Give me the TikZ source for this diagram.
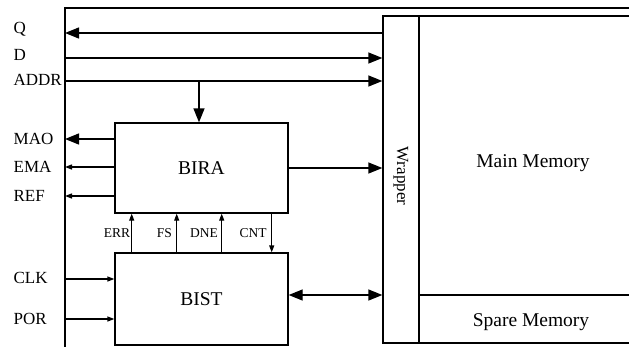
\documentclass[tikz,border=0pt]{standalone}
\usepackage{fontspec}
\setmainfont{Liberation Serif}
\usetikzlibrary{arrows.meta}
\begin{document}
\begin{tikzpicture}[x=1pt,y=-1pt, line width=1.3pt,
  big/.style={-{Triangle[length=14pt,width=11pt]}},
  small/.style={-{Triangle[length=7pt,width=5pt]}},
  blk/.style={draw, rectangle, inner sep=0pt},
  bigfont/.style={font=\fontsize{19.5}{22}\selectfont},
  lab/.style={font=\fontsize{17}{19}\selectfont, anchor=west, inner sep=0pt},
  sig/.style={font=\fontsize{13.5}{15}\selectfont, inner sep=0pt}]
\useasboundingbox (0,0) rectangle (629,346);
% frame
\coordinate (ftop) at (65,8);
\coordinate (fbot) at (65,350);
\coordinate (fright) at (640,8);
\draw (fbot) -- (ftop) -- (fright);
% blocks
\node[blk, minimum width=173pt, minimum height=90pt, bigfont] (bira) at (201.5,168) {BIRA};
\node[blk, minimum width=173pt, minimum height=92pt, bigfont] (bist) at (201.5,299) {BIST};
\node[blk, minimum width=36pt, minimum height=327pt] (wrap) at (401,179.5) {};
\node[rotate=-90, font=\fontsize{17}{19}\selectfont, inner sep=0pt] (wraptxt) at (401,176) {Wrapper};
\node[blk, outer sep=0pt, anchor=north west, minimum width=230pt, minimum height=279pt] (main) at (419,16) {};
\node[bigfont, inner sep=0pt] (maintxt) at (533,163) {Main Memory};
\node[blk, outer sep=0pt, anchor=north west, minimum width=230pt, minimum height=48pt] (spare) at (419,295) {};
\node[bigfont, inner sep=0pt] (sparetxt) at (531,322) {Spare Memory};
% left labels
\node[lab] (lQ) at (13,29) {Q};
\node[lab] (lD) at (13,55) {D};
\node[lab] (lADDR) at (13,80) {ADDR};
\node[lab] (lMAO) at (13,139) {MAO};
\node[lab] (lEMA) at (13,167) {EMA};
\node[lab] (lREF) at (13,196) {REF};
\node[lab] (lCLK) at (13,278) {CLK};
\node[lab] (lPOR) at (13,319) {POR};
% frame coordinates
\coordinate (fQ) at (65,33);
\coordinate (fD) at (65,58);
\coordinate (fADDR) at (65,81);
\coordinate (fMAO) at (65,139);
\coordinate (fEMA) at (65,167);
\coordinate (fREF) at (65,196);
\coordinate (fCLK) at (65,279);
\coordinate (fPOR) at (65,319);
\coordinate (xADDR) at (199,81);
% buses
\draw[big] (wrap.west |- fQ) -- (fQ);
\draw[big] (fD) -- (wrap.west |- fD);
\draw[big] (fADDR) -- (wrap.west |- fADDR);
\draw[big] (xADDR) -- (xADDR |- bira.north);
\draw[big] (bira.west |- fMAO) -- (fMAO);
\draw[small] (bira.west |- fEMA) -- (fEMA);
\draw[small] (bira.west |- fREF) -- (fREF);
\draw[small] (fCLK) -- (bist.west |- fCLK);
\draw[small] (fPOR) -- (bist.west |- fPOR);
\draw[big] (bira.east) -- (bira.east -| wrap.west);
\coordinate (yBW) at (300,295);
\draw[{Triangle[length=14pt,width=11pt]}-{Triangle[length=14pt,width=11pt]}] (bist.east |- yBW) -- (wrap.west |- yBW);
% BIST <-> BIRA signals
\coordinate (xERR) at (131.7,0);
\coordinate (xFS) at (176.7,0);
\coordinate (xDNE) at (221.7,0);
\coordinate (xCNT) at (271.7,0);
\draw[small] (xERR |- bist.north) -- (xERR |- bira.south);
\draw[small] (xFS |- bist.north) -- (xFS |- bira.south);
\draw[small] (xDNE |- bist.north) -- (xDNE |- bira.south);
\draw[small] (xCNT |- bira.south) -- (xCNT |- bist.north);
\node[sig] (sERR) at (117,233) {ERR};
\node[sig] (sFS) at (164.5,233) {FS};
\node[sig] (sDNE) at (204,233) {DNE};
\node[sig] (sCNT) at (253,233) {CNT};
\end{tikzpicture}
\end{document}
